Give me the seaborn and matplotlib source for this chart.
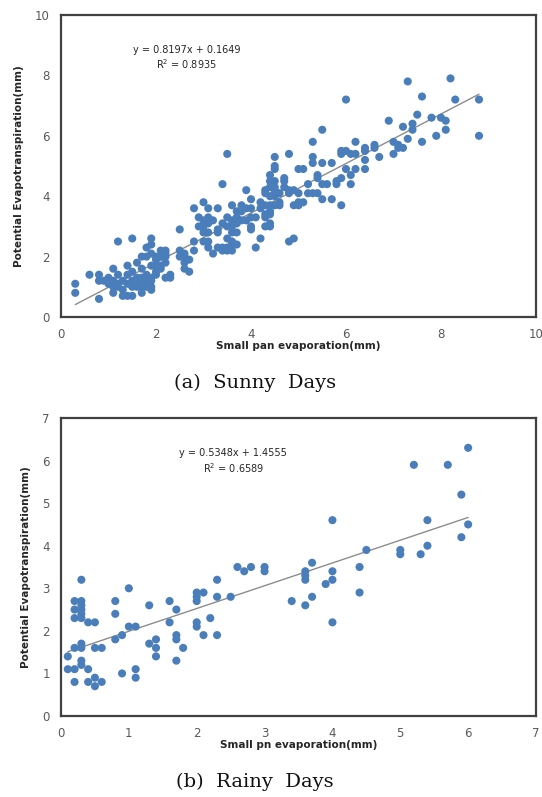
import matplotlib
matplotlib.use("Agg")
import matplotlib.pyplot as plt
import seaborn as sns
import pandas as pd
import numpy as np

# ---------------- data: (a) Sunny Days ----------------
sunny_x = [0.3, 0.3, 0.6, 0.8, 0.8, 0.8, 0.9, 1.0, 1.0,
           1.1, 1.2, 1.1, 1.1, 1.1, 1.2, 1.2, 1.3, 1.4, 1.5, 1.5, 1.4, 1.4, 1.3, 1.3, 1.2, 1.4, 1.5,
           1.6, 1.6, 1.6, 1.7, 1.7, 1.7, 1.7, 1.7, 1.8, 1.8, 1.8, 1.8, 1.9, 1.9, 1.9, 1.9, 1.9, 1.6,
           1.8, 1.9, 1.5, 1.5, 1.6, 1.7, 1.8, 1.9, 1.9,
           2.0, 2.0, 2.0, 2.1, 2.1, 2.2, 2.2, 2.2, 2.3, 2.3, 2.1, 2.2, 2.1, 2.0, 2.2, 2.0,
           2.5, 2.5, 2.5, 2.6, 2.6, 2.7, 2.7, 2.8, 2.8, 2.8, 2.9, 2.9, 2.6, 2.6,
           3.0, 3.0, 3.0, 3.0, 3.1, 3.1, 3.1, 3.1, 3.1, 3.1, 3.2, 3.3, 3.3, 3.3, 3.3, 3.4, 3.4, 3.4,
           3.5, 3.5, 3.5, 3.5, 3.5, 3.2, 3.4, 3.0,
           3.6, 3.6, 3.6, 3.6, 3.6, 3.6, 3.7, 3.7, 3.7, 3.8, 3.8, 3.8, 3.9, 3.9, 3.9, 3.6, 3.5, 3.7, 3.7,
           4.0, 4.0, 4.0, 4.0, 4.0, 4.1, 4.1, 4.2, 4.2, 4.2, 4.3, 4.3, 4.3, 4.3, 4.3, 4.4, 4.4, 4.4,
           4.4, 4.4, 4.4, 4.4, 4.3, 4.5, 4.5, 4.5, 4.5, 4.5, 4.5, 4.5, 4.5, 4.5, 4.4, 4.4,
           4.6, 4.6, 4.6, 4.7, 4.7, 4.7, 4.8, 4.8, 4.8, 4.8, 4.9, 4.9, 4.9, 5.0, 5.0, 5.0, 5.0,
           5.1, 5.1, 5.2, 5.2, 5.3, 5.3, 5.3, 5.3, 5.4, 5.4, 5.4, 5.5, 5.5, 5.5, 5.5, 5.6,
           5.7, 5.7, 5.8, 5.8, 5.9, 5.9, 5.9, 5.9, 6.0, 6.0, 6.0,
           6.1, 6.1, 6.1, 6.2, 6.2, 6.2, 6.4, 6.4, 6.4, 6.4,
           6.6, 6.6, 6.7, 6.9,
           7.0, 7.0, 7.1, 7.1, 7.2, 7.2, 7.3, 7.3, 7.4, 7.4, 7.5, 7.6, 7.6, 7.8, 7.9, 8.0, 8.1, 8.1,
           8.2, 8.3, 8.8, 8.8]
sunny_y = [1.1, 0.8, 1.4, 0.6, 1.4, 1.2, 1.2, 1.3, 1.1,
           1.6, 2.5, 1.2, 1.0, 0.8, 1.4, 1.0, 0.7, 0.7, 0.7, 2.6, 1.4, 1.7, 1.2, 0.9, 1.1, 1.1, 1.5,
           1.8, 1.0, 1.2, 2.0, 1.6, 0.8, 1.1, 1.3, 1.2, 1.0, 2.0, 2.3, 2.6, 2.4, 2.1, 1.7, 0.9, 1.1,
           1.4, 1.3, 1.0, 1.2, 1.3, 1.0, 1.1, 1.2, 1.0,
           1.7, 1.9, 1.4, 2.0, 1.7, 2.1, 1.3, 2.2, 1.4, 1.3, 2.2, 1.8, 1.6, 1.5, 2.0, 2.0,
           2.9, 2.2, 2.0, 1.8, 1.6, 1.5, 1.9, 3.6, 2.5, 2.2, 3.3, 3.0, 2.1, 2.0,
           3.8, 3.0, 2.8, 2.5, 3.6, 3.3, 3.1, 2.8, 2.5, 2.3, 2.1, 3.6, 2.9, 2.8, 2.3, 4.4, 3.1, 2.3,
           5.4, 3.3, 3.0, 2.3, 2.2, 3.2, 2.2, 3.2,
           3.7, 3.2, 3.0, 2.8, 2.5, 2.2, 3.3, 3.1, 2.8, 3.5, 3.2, 3.7, 4.2, 3.6, 3.2, 2.4, 2.6, 3.5, 2.4,
           3.9, 3.6, 3.3, 3.0, 2.9, 3.3, 2.3, 3.6, 2.6, 3.8, 4.2, 3.3, 3.0, 3.7, 3.4, 4.7, 4.3, 4.0,
           3.7, 3.5, 4.5, 3.1, 4.1, 5.3, 4.9, 4.5, 4.2, 4.0, 3.7, 5.0, 4.3, 4.1, 3.4, 3.0,
           4.1, 3.8, 3.7, 4.6, 4.5, 4.3, 5.4, 4.1, 4.2, 2.5, 2.6, 3.7, 4.2, 4.9, 3.7, 4.1, 3.8,
           3.8, 4.9, 4.4, 4.1, 5.8, 5.3, 5.1, 4.1, 4.1, 4.7, 4.6, 6.2, 5.1, 3.9, 4.4, 4.4,
           5.1, 3.9, 4.5, 4.4, 5.5, 5.4, 4.6, 3.7, 7.2, 5.5, 4.9,
           5.4, 4.7, 4.4, 5.8, 5.4, 4.9, 5.6, 5.5, 5.2, 4.9,
           5.7, 5.6, 5.3, 6.5,
           5.8, 5.4, 5.7, 5.6, 5.6, 6.3, 7.8, 5.9, 6.4, 6.2, 6.7, 7.3, 5.8, 6.6, 6.0, 6.6, 6.5, 6.2,
           7.9, 7.2, 7.2, 6.0]
sunny_slope, sunny_icpt, sunny_r2 = 0.8197, 0.1649, 0.8935

# ---------------- data: (b) Rainy Days ----------------
rainy_x = [0.1, 0.1, 0.2, 0.2, 0.2, 0.2, 0.2, 0.2,
           0.3, 0.3, 0.3, 0.3, 0.3, 0.3, 0.3, 0.3, 0.3, 0.3,
           0.4, 0.4, 0.5, 0.4, 0.5, 0.5, 0.6, 0.5, 0.6,
           0.8, 0.8, 0.8, 0.9, 0.9, 1.0, 1.0, 1.1, 1.1, 1.1,
           1.3, 1.3, 1.4, 1.4, 1.4, 1.6, 1.6, 1.7, 1.7, 1.7, 1.7, 1.8,
           2.0, 2.0, 2.0, 2.1, 2.0, 2.0, 2.1, 2.2, 2.3, 2.3, 2.3, 2.5,
           2.6, 2.7, 2.8, 3.0, 3.0,
           3.4, 3.6, 3.6, 3.6, 3.6, 3.7, 3.7, 3.9, 4.0, 4.0, 4.0, 4.0,
           4.4, 4.4, 4.5, 5.0, 5.0, 5.3, 5.4, 5.4, 5.9, 6.0,
           5.2, 5.7, 5.9, 6.0]
rainy_y = [1.4, 1.1, 1.1, 0.8, 1.6, 2.7, 2.5, 2.3,
           2.7, 2.6, 2.5, 2.4, 2.3, 3.2, 1.7, 1.6, 1.3, 1.2,
           1.1, 2.2, 2.2, 0.8, 0.9, 0.7, 0.8, 1.6, 1.6,
           2.7, 2.4, 1.8, 1.9, 1.0, 3.0, 2.1, 2.1, 1.1, 0.9,
           2.6, 1.7, 1.8, 1.6, 1.4, 2.7, 2.2, 2.5, 1.9, 1.8, 1.3, 1.6,
           2.9, 2.8, 2.7, 2.9, 2.2, 2.1, 1.9, 2.3, 3.2, 2.8, 1.9, 2.8,
           3.5, 3.4, 3.5, 3.5, 3.4,
           2.7, 2.6, 3.4, 3.3, 3.2, 3.6, 2.8, 3.1, 4.6, 3.4, 3.2, 2.2,
           3.5, 2.9, 3.9, 3.9, 3.8, 3.8, 4.0, 4.6, 4.2, 4.5,
           5.9, 5.9, 5.2, 6.3]
rainy_slope, rainy_icpt, rainy_r2 = 0.5348, 1.4555, 0.6589

sunny_xticks = [0, 2, 4, 6, 8, 10]
sunny_yticks = [0, 2, 4, 6, 8, 10]
rainy_xticks = [0, 1, 2, 3, 4, 5, 6, 7]
rainy_yticks = [0, 1, 2, 3, 4, 5, 6, 7]

POINT = "#4a7ebb"
SPINE = "#404040"
TICKC = "#595959"
TREND = "#8c8c8c"

sns.set_theme(style="white")
plt.rcParams["font.family"] = ["DejaVu Sans"]

W, H = 542, 797
fig = plt.figure(figsize=(W / 100, H / 100), dpi=100)


def axes_px(l, t, r, b):
    return fig.add_axes([l / W, 1 - b / H, (r - l) / W, (b - t) / H])


def panel(ax, xs, ys, slope, icpt, r2, xticks, yticks, xlabel, eq_xy, caption, cap_y):
    df = pd.DataFrame({"x": xs, "y": ys})
    sns.scatterplot(data=df, x="x", y="y", ax=ax, color=POINT, s=34,
                    edgecolor="none", linewidth=0, zorder=3)
    x0, x1 = min(xs), max(xs)
    ax.plot([x0, x1], [slope * x0 + icpt, slope * x1 + icpt],
            color=TREND, lw=1.0, zorder=2)
    ax.set_xlim(xticks[0], xticks[-1])
    ax.set_ylim(yticks[0], yticks[-1])
    ax.set_xticks(xticks)
    ax.set_yticks(yticks)
    ax.tick_params(axis="both", labelsize=8.5, colors=TICKC, length=3,
                   width=0.6, direction="out", pad=5)
    for lab in ax.get_xticklabels() + ax.get_yticklabels():
        lab.set_color(TICKC)
    ax.tick_params(axis="both", color="#bfbfbf")
    for sp in ax.spines.values():
        sp.set_color(SPINE)
        sp.set_linewidth(1.6)
    ax.set_xlabel(xlabel, fontsize=7.5, fontweight="bold", color="#262626", labelpad=0)
    ax.set_ylabel("Potential Evapotranspiration(mm)", fontsize=7.5,
                  fontweight="bold", color="#262626", labelpad=8)
    ax.text(eq_xy[0], eq_xy[1], f"y = {slope}x + {icpt}\nR$^2$ = {r2}",
            ha="center", va="center", fontsize=7, color="#262626",
            linespacing=1.25, transform=ax.transData)
    fig.text(255 / W, 1 - cap_y / H, caption, ha="center", va="center",
             fontsize=14, family="DejaVu Serif", color="#111111")


ax1 = axes_px(61, 15, 536, 317)
panel(ax1, sunny_x, sunny_y, sunny_slope, sunny_icpt, sunny_r2,
      sunny_xticks, sunny_yticks, "Small pan evaporation(mm)", (2.64, 8.58),
      "(a)  Sunny  Days", 383)

ax2 = axes_px(61, 418, 536, 716)
panel(ax2, rainy_x, rainy_y, rainy_slope, rainy_icpt, rainy_r2,
      rainy_xticks, rainy_yticks, "Small pn evaporation(mm)", (2.54, 5.97),
      "(b)  Rainy  Days", 782)

fig.savefig("out.png", dpi=100, facecolor="white")
